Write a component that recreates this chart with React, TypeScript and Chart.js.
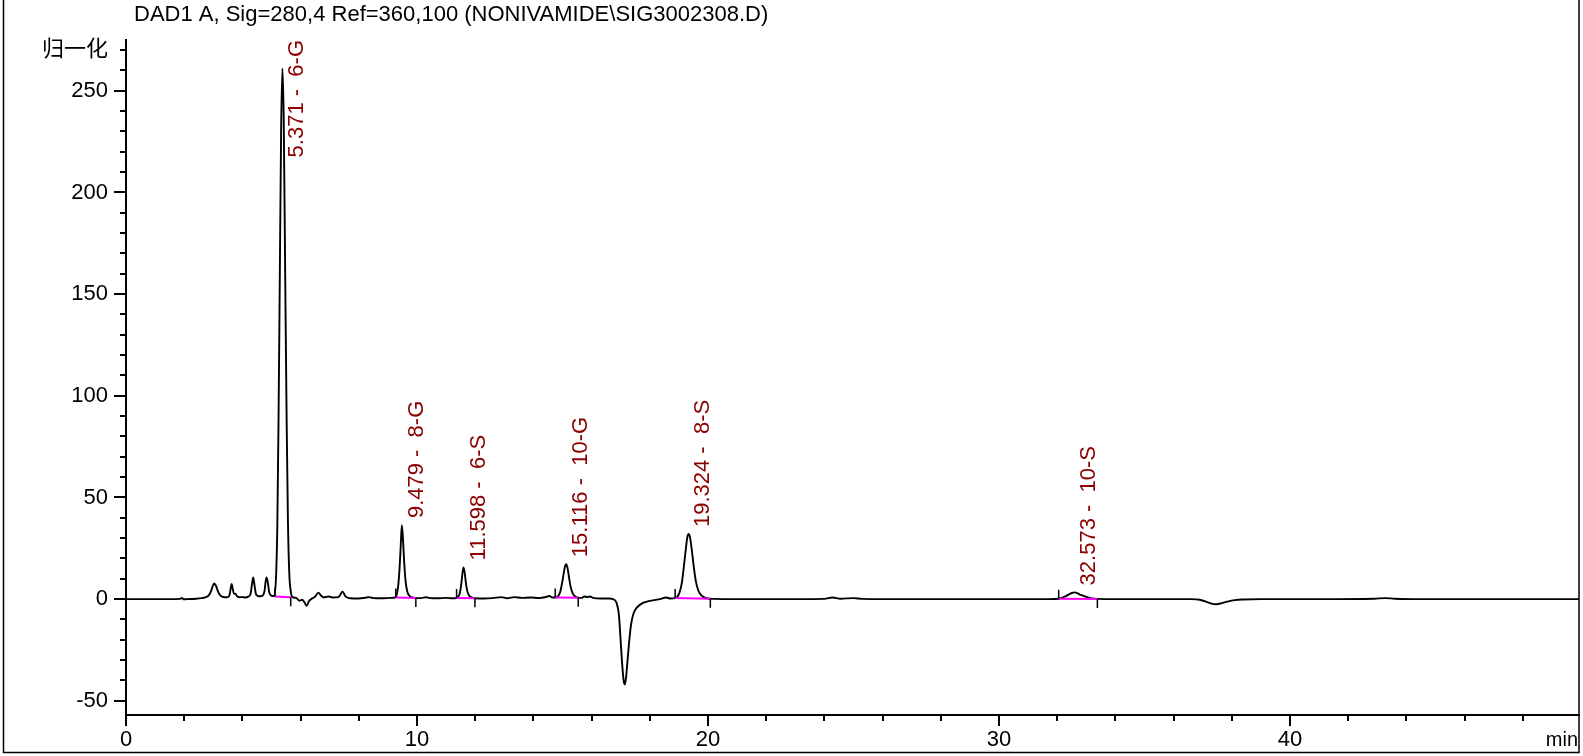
import { useEffect, useRef } from "react";
import { Chart, registerables } from "chart.js";

Chart.register(...registerables);

const TITLE = "DAD1 A, Sig=280,4 Ref=360,100 (NONIVAMIDE\\SIG3002308.D)";
const Y_LABEL = "归一化";
const X_UNIT = "min";
const FONT = "'Liberation Sans', Arial, 'Noto Sans CJK SC', sans-serif";

// Chromatogram trace (time in min, signal)
const traceTimes = [
  0, 0.5, 1.0, 1.5, 1.85, 1.92, 1.98, 2.1, 2.4, 2.6, 2.75, 2.85, 2.92, 2.97, 3.03, 3.09, 3.15, 3.22, 3.3, 3.4,
  3.5, 3.56, 3.6, 3.63, 3.67, 3.71, 3.76, 3.82, 3.9, 4.0, 4.1, 4.2, 4.28, 4.33, 4.37, 4.41, 4.46, 4.52, 4.6,
  4.7, 4.76, 4.8, 4.83, 4.87, 4.92, 4.98, 5.04, 5.1, 5.16, 5.2, 5.24, 5.285, 5.33, 5.375, 5.42, 5.47, 5.52,
  5.565, 5.61, 5.66, 5.72, 5.85, 5.95, 6.05, 6.13, 6.21, 6.28, 6.38, 6.5, 6.61, 6.7, 6.8, 6.95, 7.1, 7.3,
  7.44, 7.55, 7.7, 8.0, 8.2, 8.36, 8.5, 8.8, 9.1, 9.25, 9.3, 9.35, 9.4, 9.44, 9.479, 9.52, 9.56, 9.61, 9.67,
  9.75, 9.85, 10.0, 10.15, 10.3, 10.45, 10.7, 11.0, 11.2, 11.36, 11.42, 11.48, 11.53, 11.56, 11.598, 11.64,
  11.68, 11.73, 11.8, 11.9, 12.0, 12.3, 12.6, 12.9, 13.1, 13.35, 13.6, 13.9, 14.2, 14.4, 14.55, 14.65, 14.75,
  14.85, 14.92, 14.98, 15.04, 15.08, 15.12, 15.17, 15.22, 15.28, 15.35, 15.45, 15.54, 15.65, 15.75, 15.85,
  15.95, 16.05, 16.3, 16.6, 16.8, 16.88, 16.94, 17.0, 17.05, 17.1, 17.14, 17.18, 17.23, 17.29, 17.35, 17.42,
  17.5, 17.6, 17.75, 17.9, 18.1, 18.35, 18.56, 18.7, 18.87, 18.95, 19.02, 19.1, 19.17, 19.24, 19.29, 19.33,
  19.38, 19.44, 19.51, 19.58, 19.66, 19.75, 19.85, 20.0, 20.2, 21.0, 22.0, 23.0, 24.0, 24.28, 24.55, 25.0,
  25.3, 26.0, 28.0, 30.0, 31.5, 32.05, 32.3, 32.5, 32.6, 32.75, 32.95, 33.15, 33.38, 34.0, 35.5, 36.6, 36.9,
  37.1, 37.3, 37.47, 37.65, 37.85, 38.1, 38.4, 39.0, 41.0, 42.9, 43.26, 43.6, 44.5, 46.0, 48.0, 49.93,
];
const traceValues = [
  0, 0, 0, 0, 0.1, 0.6, -0.1, 0, 0.2, 0.5, 1.0, 2.0, 3.8, 6.0, 7.7, 6.6, 4.2, 2.2, 1.2, 0.9,
  1.0, 2.2, 5.5, 7.4, 4.8, 2.8, 2.6, 1.4, 0.9, 1.0, 0.8, 1.2, 2.5, 7.5, 10.7, 7.4, 2.8, 1.6, 1.4,
  1.8, 4.0, 8.8, 10.7, 8.5, 3.5, 1.8, 1.5, 1.5, 12.5, 36, 86, 158, 230, 261, 236, 160, 88,
  38, 13, 4, 1.0, 0.6, -0.8, -0.3, -1.5, -3.3, -1.2, 0.2, 1.2, 3.2, 1.8, 0.8, 1.3, 0.8, 1.0,
  3.6, 1.2, 0.4, 0.3, 0.6, 1.0, 0.5, 0.4, 0.6, 0.8, 2.0, 6.0, 15, 26, 36.4, 29, 18, 8.5, 3.5,
  1.5, 0.8, 0.5, 0.5, 0.9, 0.5, 0.4, 0.6, 0.4, 0.5, 1.3, 3.5, 8.5, 12.5, 15.6, 12.8,
  8, 3.8, 1.6, 0.7, 0.4, 0.3, 0.5, 1.0, 0.4, 1.0, 0.6, 0.8, 0.5, 0.9, 1.5, 0.8, 0.8,
  1.5, 3.5, 7.5, 12.5, 15.8, 17.2, 15.5, 11, 6.0, 2.8, 1.2, 0.7, 0.6, 1.3, 1.0,
  1.3, 0.6, 0.3, 0.3, -0.5, -3, -8, -21, -32, -40, -42, -39, -31, -21, -13, -8,
  -5.2, -3.5, -2, -1.2, -0.6, 0, 0.8, 0.3, 0.5, 1.2, 3.2, 8, 16, 25, 30.5, 32,
  30.5, 24.5, 16, 9, 4.5, 2.2, 1.0, 0.3, 0.1, 0, 0, 0, 0.1, 0.8, 0.2, 0.5,
  0.1, 0, 0, 0, 0, 0.2, 1.5, 3.0, 3.3, 2.5, 1.3, 0.5, 0.1, 0, 0, 0, -0.3,
  -1.2, -2.2, -2.5, -2.0, -1.2, -0.5, -0.2, 0, 0, 0.2, 0.5, 0.2, 0, 0, 0, 0,
];

// Peak annotations
const peakTimes = [5.371, 9.479, 11.598, 15.116, 19.324, 32.573];
const peakHeights = [261, 36.4, 15.6, 17.2, 32, 3.3];
const peakNames = ["6-G", "8-G", "6-S", "10-G", "8-S", "10-S"];

// Integration baselines
const integStarts = [5.12, 9.27, 11.36, 14.75, 18.87, 32.05];
const integEnds = [5.66, 9.96, 11.99, 15.54, 20.08, 33.38];
const integStartValues = [1.3, 0.8, 0.5, 0.8, 0.5, 0.2];
const integEndValues = [0.9, 0.5, 0.4, 0.7, 0.2, 0.1];

// Axis ticks
const xMin = 0;
const xMax = 49.93;
const yMin = -57;
const yMax = 275;
const xMajorTicks = [0, 10, 20, 30, 40];
const xMinorTicks = [2, 4, 6, 8, 12, 14, 16, 18, 22, 24, 26, 28, 32, 34, 36, 38, 42, 44, 46, 48];
const yMajorTicks = [-50, 0, 50, 100, 150, 200, 250];
const yMinorTicks = [
  -40, -30, -20, -10, 10, 20, 30, 40, 60, 70, 80, 90, 110, 120, 130, 140, 160, 170, 180, 190,
  210, 220, 230, 240, 260, 270,
];
const yLabelTickValue = 270;

const decorPlugin = {
  id: "decor",
  afterDraw(chart: any) {
    const { ctx, chartArea, scales } = chart;
    const xs = scales.x;
    const ys = scales.y;
    ctx.save();
    ctx.strokeStyle = "#000";
    ctx.lineWidth = 2;
    // tick marks
    ctx.beginPath();
    xMajorTicks.forEach((v) => {
      const px = Math.round(xs.getPixelForValue(v));
      ctx.moveTo(px, chartArea.bottom);
      ctx.lineTo(px, chartArea.bottom + 11);
    });
    xMinorTicks.forEach((v) => {
      const px = Math.round(xs.getPixelForValue(v));
      ctx.moveTo(px, chartArea.bottom);
      ctx.lineTo(px, chartArea.bottom + 6);
    });
    yMajorTicks.forEach((v) => {
      const py = Math.round(ys.getPixelForValue(v));
      ctx.moveTo(chartArea.left, py);
      ctx.lineTo(chartArea.left - 12, py);
    });
    yMinorTicks.forEach((v) => {
      const py = Math.round(ys.getPixelForValue(v));
      ctx.moveTo(chartArea.left, py);
      ctx.lineTo(chartArea.left - 6, py);
    });
    ctx.stroke();

    // integration start / end marks
    ctx.lineWidth = 1.5;
    ctx.beginPath();
    integStarts.forEach((t, i) => {
      const px = xs.getPixelForValue(t);
      const py = ys.getPixelForValue(integStartValues[i]);
      ctx.moveTo(px, py);
      ctx.lineTo(px, py - 9);
      const qx = xs.getPixelForValue(integEnds[i]);
      const qy = ys.getPixelForValue(integEndValues[i]);
      ctx.moveTo(qx, qy);
      ctx.lineTo(qx, qy + 9);
    });
    ctx.stroke();

    // peak labels
    ctx.fillStyle = "rgb(139,0,0)";
    ctx.font = `22px ${FONT}`;
    ctx.textAlign = "left";
    ctx.textBaseline = "alphabetic";
    peakTimes.forEach((t, i) => {
      const text = `${t.toFixed(3)} -  ${peakNames[i]}`;
      const w = ctx.measureText(text).width;
      const px = xs.getPixelForValue(t);
      const py = ys.getPixelForValue(peakHeights[i]);
      const startY = Math.max(py - 7, chartArea.top + w);
      ctx.save();
      ctx.translate(px + 21, startY);
      ctx.rotate(-Math.PI / 2);
      ctx.fillText(text, 0, 0);
      ctx.restore();
    });

    // title
    ctx.fillStyle = "#000";
    ctx.font = `22px ${FONT}`;
    ctx.fillText(TITLE, 134, 21);

    // unit
    ctx.font = `20px ${FONT}`;
    ctx.textAlign = "right";
    ctx.fillText(X_UNIT, chartArea.right - 1, 746);

    // outer frame
    ctx.lineWidth = 1.5;
    ctx.beginPath();
    ctx.moveTo(3.5, 0);
    ctx.lineTo(3.5, 752.5);
    ctx.lineTo(chartArea.right, 752.5);
    ctx.lineTo(chartArea.right, 0);
    ctx.stroke();
    ctx.restore();
  },
};

export default function App() {
  const ref = useRef<HTMLCanvasElement | null>(null);
  useEffect(() => {
    document.body.style.margin = "0";
    const canvas = ref.current;
    if (!canvas) return;
    const traceData = traceTimes.map((t, i) => ({ x: t, y: traceValues[i] }));
    const integSets = integStarts.map((s, i) => ({
      data: [
        { x: s, y: integStartValues[i] },
        { x: integEnds[i], y: integEndValues[i] },
      ],
      borderColor: "#ff00ff",
      borderWidth: 2,
      pointRadius: 0,
      fill: false,
      tension: 0,
    }));
    const chart = new Chart(canvas, {
      type: "line",
      data: {
        datasets: [
          ...integSets,
          {
            data: traceData,
            borderColor: "#000",
            borderWidth: 1.9,
            pointRadius: 0,
            fill: false,
            cubicInterpolationMode: "monotone",
          },
        ],
      },
      plugins: [decorPlugin],
      options: {
        responsive: false,
        animation: false,
        devicePixelRatio: 1,
        events: [],
        layout: { padding: { top: 40, right: 4, left: 0, bottom: 0 } },
        plugins: {
          legend: { display: false },
          tooltip: { enabled: false },
          title: { display: false },
        },
        scales: {
          x: {
            type: "linear",
            min: xMin,
            max: xMax,
            afterBuildTicks: (s: any) => {
              s.ticks = xMajorTicks.map((v) => ({ value: v }));
            },
            afterFit: (s: any) => {
              s.height = 41;
            },
            grid: { display: true, drawOnChartArea: false, drawTicks: false },
            border: { display: true, color: "#000", width: 2 },
            ticks: {
              color: "#000",
              font: { family: FONT, size: 22 },
              padding: 12,
              maxRotation: 0,
              autoSkip: false,
              callback: (v: any) => String(v),
            },
          },
          y: {
            type: "linear",
            min: yMin,
            max: yMax,
            afterBuildTicks: (s: any) => {
              s.ticks = [...yMajorTicks, yLabelTickValue].map((v) => ({ value: v }));
            },
            afterFit: (s: any) => {
              s.width = 126;
            },
            grid: { display: true, drawOnChartArea: false, drawTicks: false },
            border: { display: true, color: "#000", width: 2 },
            ticks: {
              color: "#000",
              font: { family: FONT, size: 22 },
              padding: 18,
              autoSkip: false,
              callback: (v: any) => (v === yLabelTickValue ? Y_LABEL : String(v)),
            },
          },
        },
      },
    } as any);
    return () => chart.destroy();
  }, []);
  return (
    <div style={{ width: 1583, height: 756, position: "relative", background: "#fff" }}>
      <canvas ref={ref} width={1583} height={756} />
    </div>
  );
}
